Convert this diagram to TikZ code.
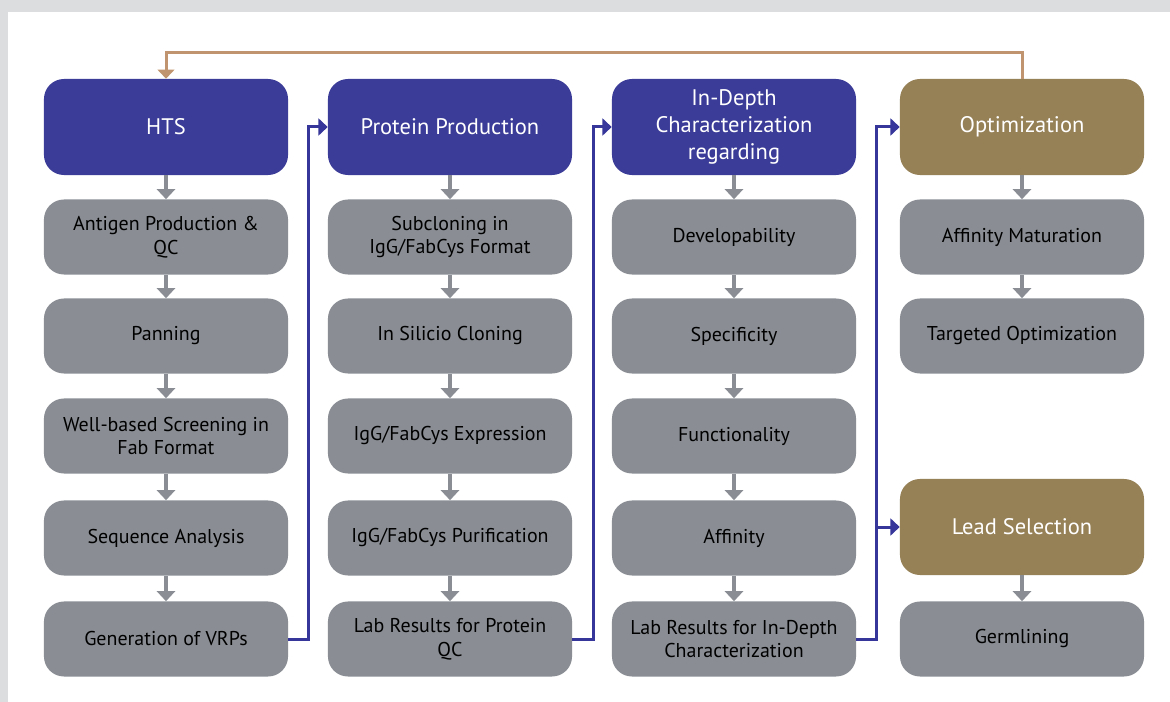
\documentclass[tikz,border=0pt]{standalone}
\usepackage{fontspec}
\setmainfont{PT Sans}
\usetikzlibrary{arrows.meta}
\definecolor{frame}{HTML}{DCDDDF}
\definecolor{hdblue}{HTML}{3B3B98}
\definecolor{hdgold}{HTML}{968157}
\definecolor{stepgray}{HTML}{8A8E94}
\definecolor{linkblue}{HTML}{36369A}
\definecolor{loopbrown}{HTML}{C0946E}
\begin{document}
\begin{tikzpicture}[x=0.025cm,y=-0.025cm,
   head/.style={rounded corners=0.5cm,minimum width=6.1cm,minimum height=2.4cm,inner sep=0pt,align=center,text=white,font=\fontsize{16}{19.2}\selectfont},
   bluehead/.style={head,fill=hdblue},
   goldhead/.style={head,fill=hdgold},
   stepbox/.style={rounded corners=0.5cm,fill=stepgray,minimum width=6.1cm,minimum height=1.875cm,inner sep=0pt,align=center,text=black,font=\fontsize{14.2}{17}\selectfont},
   down/.style={draw=stepgray,line width=0.1cm,-{Triangle[width=0.45cm,length=0.25cm]}},
   feed/.style={draw=linkblue,line width=0.075cm,-{Triangle[width=0.42cm,length=0.23cm]}},
   back/.style={draw=loopbrown,line width=0.075cm,-{Triangle[width=0.42cm,length=0.23cm]}}]
   \useasboundingbox (0,0) rectangle (1170,702);
   \fill[frame] (0,0) rectangle (1170,702);
   \fill[white] (8,12) rectangle (1170,702);
   \node[bluehead] (hts) at (166,127) {HTS};
   \node[stepbox] (antigen) at (166,237) {Antigen Production \&\\QC};
   \node[stepbox] (panning) at (166,336) {Panning};
   \node[stepbox] (screening) at (166,436) {Well-based Screening in\\Fab Format};
   \node[stepbox] (sequence) at (166,538) {Sequence Analysis};
   \node[stepbox] (vrps) at (166,639) {Generation of VRPs};
   \node[bluehead] (protein) at (450,127) {Protein Production};
   \node[stepbox] (subcloning) at (450,237) {Subcloning in\\IgG/FabCys Format};
   \node[stepbox] (silico) at (450,336) {In Silicio Cloning};
   \node[stepbox] (expression) at (450,436) {IgG/FabCys Expression};
   \node[stepbox] (purification) at (450,538) {IgG/FabCys Purification};
   \node[stepbox] (labqc) at (450,639) {Lab Results for Protein\\QC};
   \node[bluehead] (depth) at (734,127) {In-Depth\\Characterization\\regarding};
   \node[stepbox] (develop) at (734,237) {Developability};
   \node[stepbox] (specific) at (734,336) {Specificity};
   \node[stepbox] (function) at (734,436) {Functionality};
   \node[stepbox] (affinity) at (734,538) {Affinity};
   \node[stepbox] (labdepth) at (734,639) {Lab Results for In-Depth\\Characterization};
   \node[goldhead] (optim) at (1022,127) {Optimization};
   \node[stepbox] (maturation) at (1022,237) {Affinity Maturation};
   \node[stepbox] (targeted) at (1022,336) {Targeted Optimization};
   \node[goldhead] (lead) at (1022,527) {Lead Selection};
   \node[stepbox] (germ) at (1022,639) {Germlining};
   \draw[down] (hts) -- (antigen);
   \draw[down] (antigen) -- (panning);
   \draw[down] (panning) -- (screening);
   \draw[down] (screening) -- (sequence);
   \draw[down] (sequence) -- (vrps);
   \draw[down] (protein) -- (subcloning);
   \draw[down] (subcloning) -- (silico);
   \draw[down] (silico) -- (expression);
   \draw[down] (expression) -- (purification);
   \draw[down] (purification) -- (labqc);
   \draw[down] (depth) -- (develop);
   \draw[down] (develop) -- (specific);
   \draw[down] (specific) -- (function);
   \draw[down] (function) -- (affinity);
   \draw[down] (affinity) -- (labdepth);
   \draw[down] (optim) -- (maturation);
   \draw[down] (maturation) -- (targeted);
   \draw[down] (lead) -- (germ);
   \draw[feed] (vrps.east) -- ++(20,0) |- (protein.west);
   \draw[feed] (labqc.east) -- ++(21,0) |- (depth.west);
   \draw[feed] (labdepth.east) -- ++(20,0) coordinate (fork) |- (optim.west);
   \draw[feed] (fork) |- (lead.west);
   \draw[back] (optim.north) -- ++(0,-26) -| (hts.north);
\end{tikzpicture}
\end{document}
